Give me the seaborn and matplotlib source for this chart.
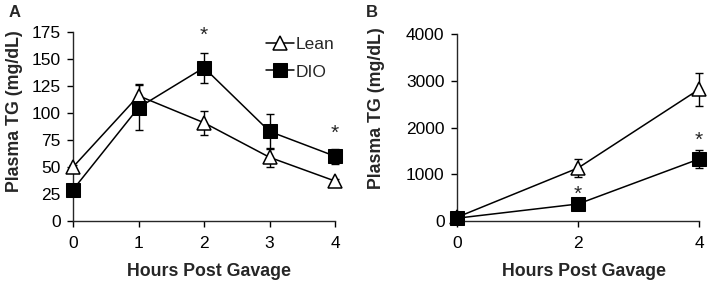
import numpy as np
import pandas as pd
import matplotlib
matplotlib.use("Agg")
import matplotlib.pyplot as plt
import seaborn as sns

# ---- data ----
hours_a = [0, 1, 2, 3, 4]
lean_a = [50, 116, 91, 59, 37]
lean_a_err = [2, 11, 11, 9, 2]
dio_a = [29, 105, 142, 83, 60]
dio_a_err = [3, 21, 14, 16, 7]
stars_a = [2, 4]

hours_b = [0, 2, 4]
lean_b = [80, 1134, 2817]
lean_b_err = [20, 195, 350]
dio_b = [60, 364, 1326]
dio_b_err = [15, 40, 195]
stars_b = [2, 4]

sns.set_style("ticks")
plt.rcParams['font.family'] = ['Liberation Sans', 'DejaVu Sans']

fig = plt.figure(figsize=(7.09, 2.81), dpi=100)
axA = fig.add_axes([0.103, 0.2135, 0.3695, 0.6725])
axB = fig.add_axes([0.6446, 0.2135, 0.3414, 0.6655])

lw = 1.1
def draw(ax, x, lean, lean_err, dio, dio_err):
    ax.errorbar(x, lean, yerr=lean_err, fmt='none', ecolor='black', elinewidth=1,
                capsize=3, capthick=1, zorder=2, clip_on=False)
    ax.errorbar(x, dio, yerr=dio_err, fmt='none', ecolor='black', elinewidth=1,
                capsize=3, capthick=1, zorder=2, clip_on=False)
    sns.lineplot(x=x, y=lean, ax=ax, color='black', linewidth=lw, marker='^',
                 markersize=10, markerfacecolor='white', markeredgecolor='black',
                 markeredgewidth=1.1, clip_on=False, zorder=3, label='Lean')
    sns.lineplot(x=x, y=dio, ax=ax, color='black', linewidth=lw, marker='s',
                 markersize=10.5, markerfacecolor='black', markeredgecolor='black',
                 clip_on=False, zorder=4, label='DIO')

draw(axA, hours_a, lean_a, lean_a_err, dio_a, dio_a_err)
draw(axB, hours_b, lean_b, lean_b_err, dio_b, dio_b_err)

axA.set_xlim(0, 4)
axA.set_ylim(0, 175)
axA.set_xticks(hours_a)
axA.set_yticks(np.arange(0, 176, 25))
axB.set_xlim(0, 4)
axB.set_ylim(0, 4000)
axB.set_xticks(hours_b)
axB.set_yticks(np.arange(0, 4001, 1000))

for ax in (axA, axB):
    sns.despine(ax=ax)
    ax.spines['left'].set_linewidth(1)
    ax.spines['bottom'].set_linewidth(1)
    ax.tick_params(axis='both', labelsize=12.5, length=4, width=1, color='black',
                   labelcolor='black')
    ax.tick_params(axis='x', pad=7)
    ax.tick_params(axis='y', pad=5)
    ax.set_xlabel('Hours Post Gavage', fontsize=12.8, fontweight='bold')
    ax.set_ylabel('Plasma TG (mg/dL)', fontsize=12.8, fontweight='bold')

axA.xaxis.set_label_coords(0.52, -0.222)
axA.yaxis.set_label_coords(-0.19, 0.58)
axB.xaxis.set_label_coords(0.525, -0.225)
axB.yaxis.set_label_coords(-0.298, 0.604)

axB.get_legend().remove()
handles, labels = axA.get_legend_handles_labels()
axA.legend(handles, labels, loc='upper left', bbox_to_anchor=(0.71, 1.01),
           frameon=False, fontsize=12.5, handlelength=1.6, handletextpad=0.1,
           labelspacing=0.7, borderaxespad=0)

# significance stars
for xs in stars_a:
    y = {2: 172, 4: 81}[xs]
    axA.text(xs, y, '*', ha='center', va='center', fontsize=15)
for xs in stars_b:
    y = {2: 560, 4: 1720}[xs]
    axB.text(xs, y, '*', ha='center', va='center', fontsize=15)

fig.text(0.012, 0.955, 'A', fontsize=12, fontweight='bold', va='center')
fig.text(0.516, 0.955, 'B', fontsize=12, fontweight='bold', va='center')

fig.savefig('out.png', dpi=100)
